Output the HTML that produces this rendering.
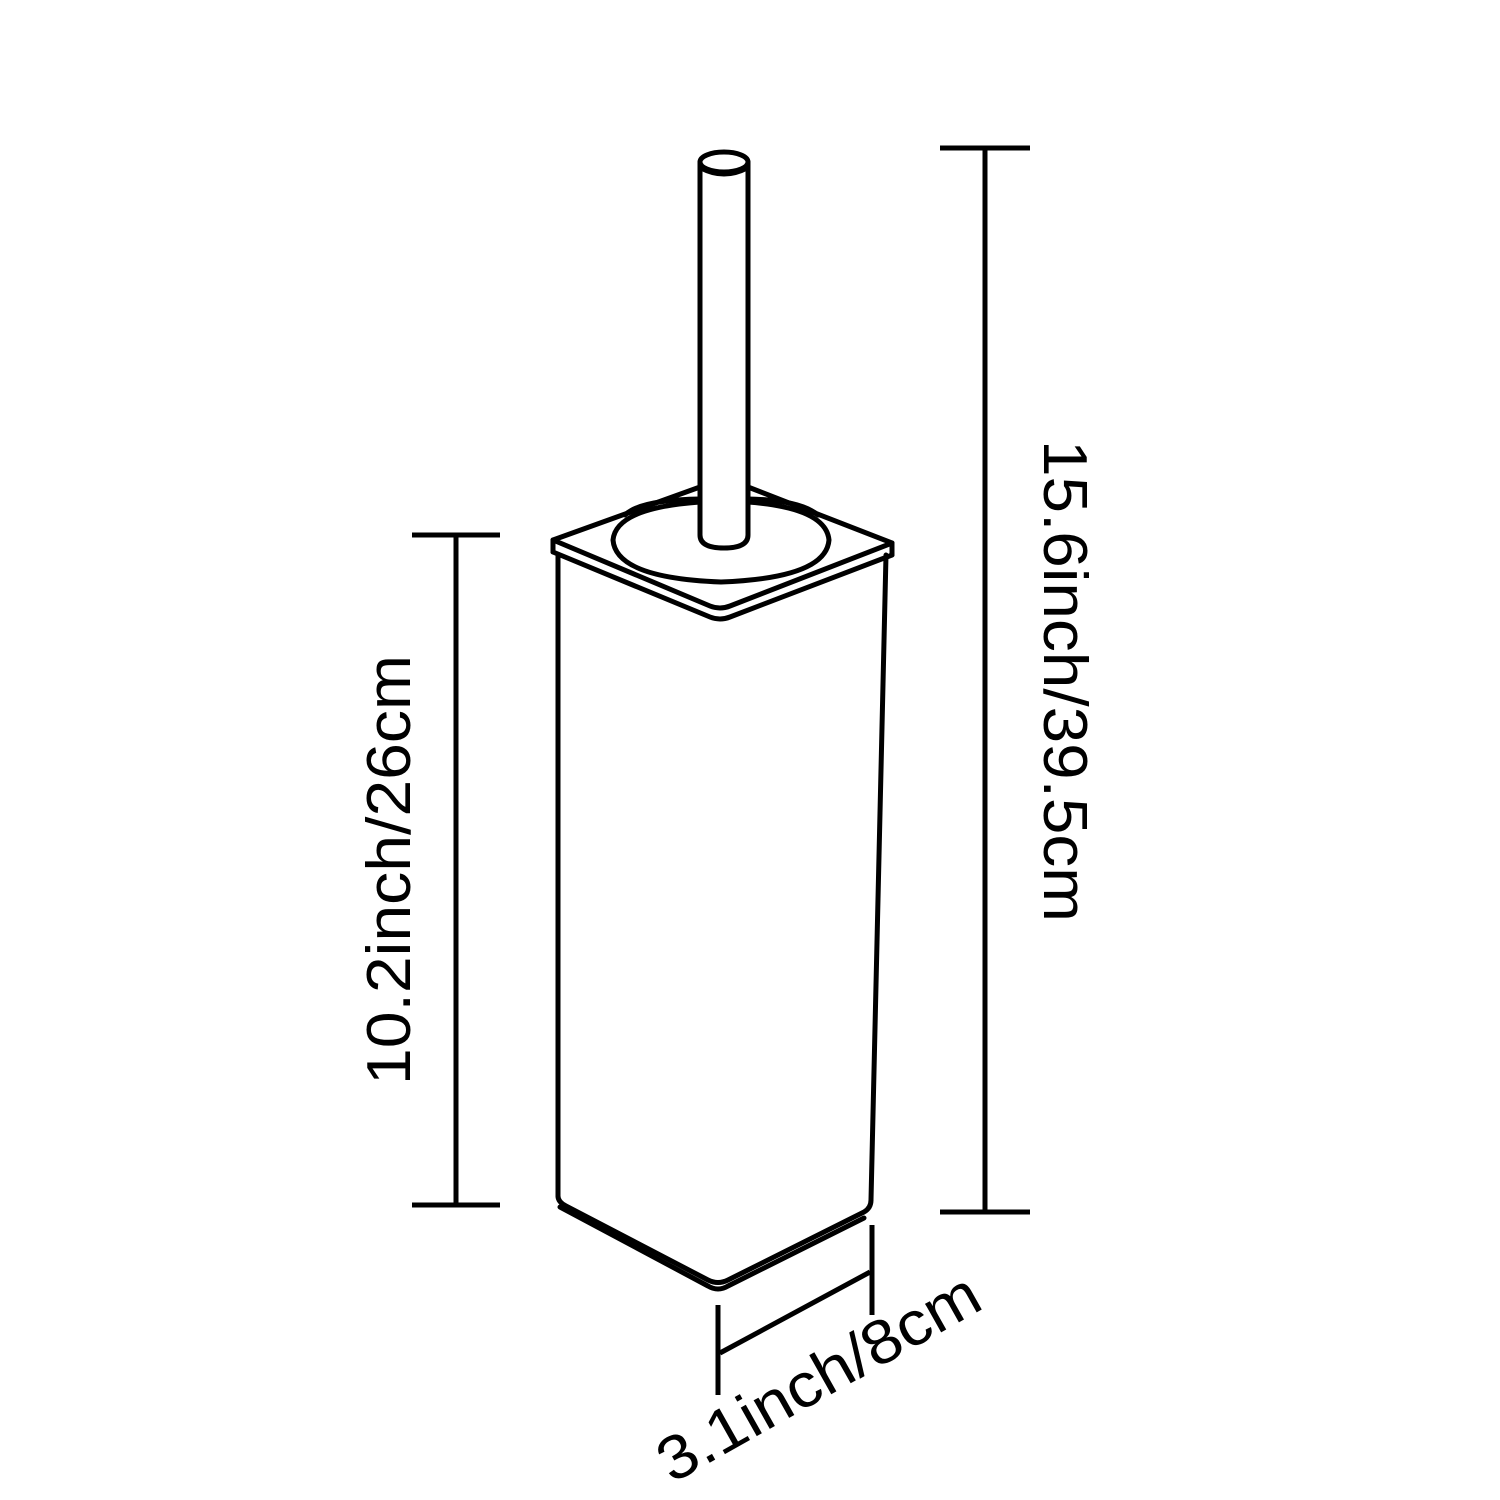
<!DOCTYPE html>
<html><head><meta charset="utf-8"><style>html,body{margin:0;padding:0;background:#fff}svg{display:block}</style></head>
<body>
<svg width="1500" height="1500" viewBox="0 0 1500 1500" xmlns="http://www.w3.org/2000/svg">
<g fill="none" stroke="#000" stroke-width="5" stroke-linejoin="round" stroke-linecap="round">
  <!-- body -->
  <path d="M558 555 L558 1196"/>
  <path d="M886 555 L871 1200"/>
  <path d="M558 1196 Q558 1202 566 1206 L708 1280 Q718 1285 728 1280 L864 1212 Q871 1208 871 1200"/>
  <path d="M560 1207 L708 1286 Q718 1292 728 1286 L864 1218"/>
  <!-- lid -->
  <path d="M553 540 L700 487 M748 487 L892 543 L892 555 M553 540 L553 552"/>
  <path d="M553 540 L710 606 Q720 610 730 606 L892 543"/>
  <path d="M553 552 L710 617 Q720 621 730 617 L892 555"/>
  <!-- hole -->
  <path d="M700 502 Q616 508 613 540 Q616 578 721 582 Q826 578 829 540 Q826 508 748 502"/>
  <path d="M700 499 Q640 500 625 515 M748 499 Q800 500 818 515"/>
  <!-- stick -->
  <path d="M700 162 L700 535 Q700 548 724 548 Q748 548 748 535 L748 162"/>
  <ellipse cx="724" cy="162" rx="24" ry="10"/>
  <path d="M701 168 Q724 180 747 168"/>
</g>
<g stroke="#000" stroke-width="5">
  <line x1="456" y1="535" x2="456" y2="1205"/>
  <line x1="412" y1="535" x2="500" y2="535"/>
  <line x1="412" y1="1205" x2="500" y2="1205"/>
  <line x1="985" y1="148" x2="985" y2="1212"/>
  <line x1="940" y1="148" x2="1030" y2="148"/>
  <line x1="940" y1="1212" x2="1030" y2="1212"/>
  <line x1="718" y1="1305" x2="718" y2="1395"/>
  <line x1="872" y1="1225" x2="872" y2="1315"/>
  <line x1="720" y1="1353" x2="870" y2="1272"/>
</g>
<g font-family="'Liberation Sans', 'DejaVu Sans', sans-serif" font-size="62" fill="#000">
  <text transform="translate(410,1085) rotate(-90)" textLength="430" lengthAdjust="spacingAndGlyphs">10.2inch/26cm</text>
  <text transform="translate(1044,440) rotate(90)" textLength="482" lengthAdjust="spacingAndGlyphs">15.6inch/39.5cm</text>
  <text transform="translate(672,1484) rotate(-29.4)" textLength="360" lengthAdjust="spacingAndGlyphs">3.1inch/8cm</text>
</g>
</svg>
</body></html>
